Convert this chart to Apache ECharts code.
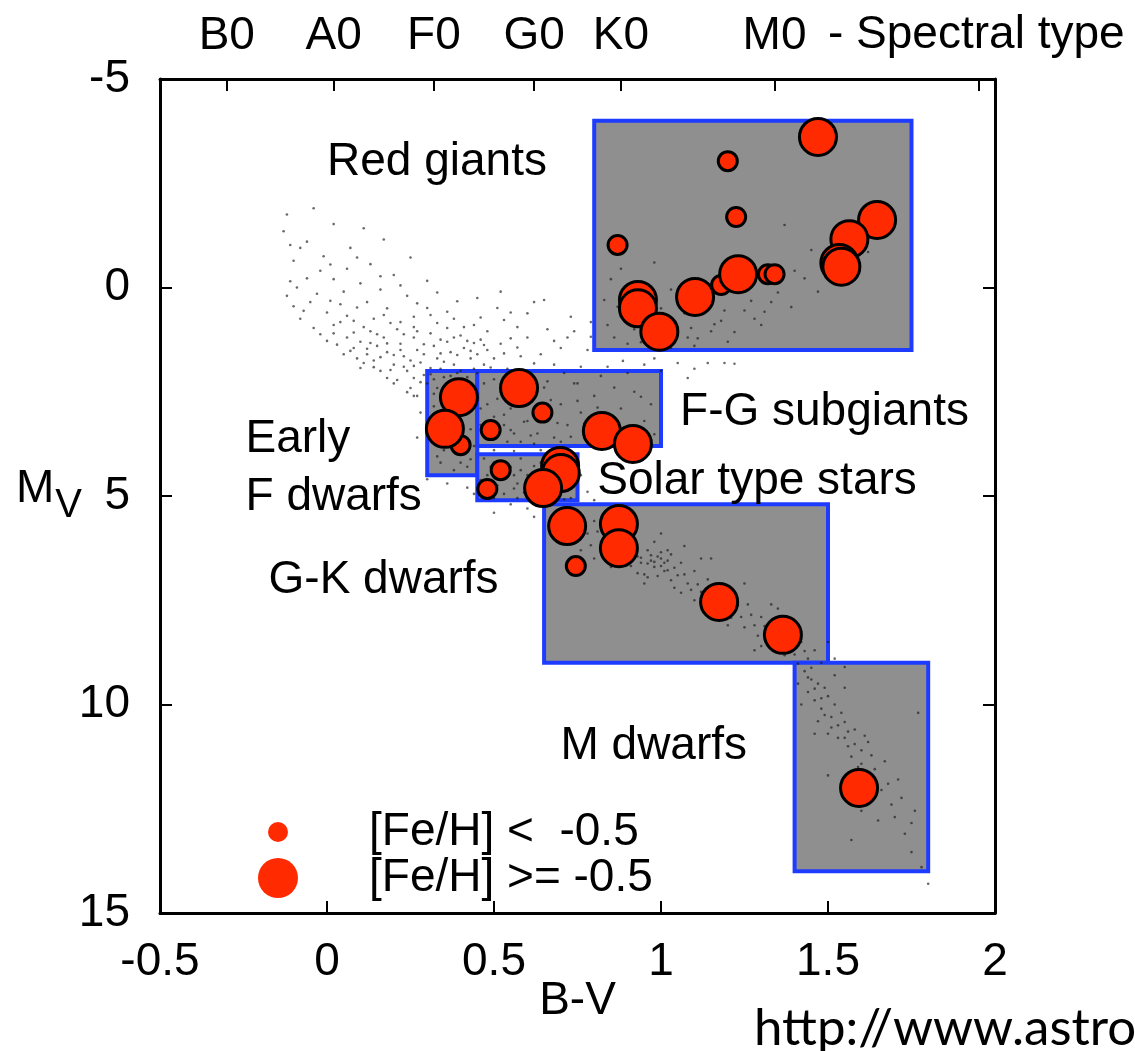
<!DOCTYPE html>
<html>
<head>
<meta charset="utf-8">
<title>HR diagram – sample boxes</title>
<script src="https://cdn.jsdelivr.net/npm/echarts@6/dist/echarts.min.js"></script>
<style>
  html, body { margin: 0; padding: 0; background: #fff; }
  #chart { width: 1135px; height: 1051px; }
</style>
</head>
<body>
<div id="chart"></div>
<script>
// ---- data -------------------------------------------------------------
// Selection boxes: [B-V min, B-V max, Mv top, Mv bottom]
const boxes = [
  [0.80, 1.75, -4.0, 1.5],   // Red giants
  [0.30, 0.45, 2.0, 4.5],    // Early F dwarfs
  [0.45, 1.00, 2.0, 3.8],    // F-G subgiants
  [0.45, 0.75, 4.0, 5.1],    // Solar type stars
  [0.65, 1.50, 5.2, 9.0],    // G-K dwarfs
  [1.40, 1.80, 9.0, 14.0]    // M dwarfs
];
const boxNames = ['Red giants', 'F-G subgiants', 'Early', 'F dwarfs',
                  'Solar type stars', 'G-K dwarfs', 'M dwarfs'];

// Programme stars, [B-V, Mv]
const metalPoor = [
  [1.20, -3.03], [1.225, -1.69], [0.87, -1.02], [1.18, -0.06],
  [1.32, -0.32], [1.34, -0.32], [0.40, 3.78], [0.645, 3.0],
  [0.49, 3.42], [0.52, 4.38], [0.48, 4.83], [0.745, 6.68]
];
const metalRich = [
  [1.47, -3.61], [1.647, -1.62], [1.564, -1.16], [1.534, -0.59],
  [1.54, -0.5], [1.231, -0.32], [1.102, 0.225], [0.931, 0.30],
  [0.931, 0.50], [0.995, 1.06], [0.395, 2.63], [0.353, 3.39],
  [0.575, 2.41], [0.823, 3.44], [0.916, 3.75], [0.698, 4.28],
  [0.70, 4.45], [0.647, 4.81], [0.719, 5.72], [0.874, 5.67],
  [0.874, 6.25], [1.174, 7.54], [1.365, 8.33], [1.593, 12.0]
];

// Field stars (Hipparcos sample), [B-V, Mv]
const fieldStars = [
  [-0.12,-1.75],[-0.13,-1.35],[-0.08,-0.95],[-0.1,-0.64],[-0.11,-0.15],[-0.12,0.2],[-0.07,0.56],[-0.04,0.97],
  [0.07,-0.95],[0.13,-0.56],[-0.06,-1.1],[-0.02,-0.4],[0.02,-0.2],[-0.09,0.0],[0.05,0.1],[0.1,-0.1],
  [-0.05,0.35],[0.0,0.6],[0.04,0.4],[0.08,0.8],[-0.08,0.75],[0.02,0.9],[-0.1,0.45],[0.12,0.35],
  [0.06,-0.45],[-0.01,-0.75],[0.16,0.05],[0.2,-0.3],[0.3,-0.16],[0.3,0.49],[0.24,0.2],[0.18,0.5],
  [0.26,0.7],[0.14,0.75],
  [-0.11,-1.02],[-0.06,-0.22],[-0.03,0.15],[0.01,0.32],[0.09,0.48],[0.06,0.68],[-0.02,1.12],[0.01,-0.55],
  [0.09,-0.72],[0.16,-0.27],[0.22,-0.05],[0.27,0.38],[0.33,0.12],[0.39,0.33],[0.45,0.25],[0.52,0.1],
  [0.11,-1.42],[0.02,-1.52],[-0.04,-1.9],[0.17,-1.15],[0.25,-0.72],
  [0.0,1.28],[0.05,1.6],[0.1,1.93],[0.18,2.17],[0.25,2.41],[0.36,0.97],[0.42,1.28],[0.45,1.6],[0.51,0.49],
  [0.02,1.1],[0.06,1.2],[0.08,1.45],[0.1,1.3],[0.12,1.6],[0.14,1.75],[0.15,1.4],[0.17,1.2],[0.18,1.55],
  [0.2,1.85],[0.21,1.0],[0.22,1.35],[0.23,1.65],[0.24,2.0],[0.26,1.2],[0.27,1.5],[0.28,1.8],[0.29,2.1],
  [0.3,2.3],[0.31,1.1],[0.32,1.4],[0.33,1.7],[0.34,1.95],[0.35,2.15],[0.36,1.3],[0.37,1.55],[0.38,1.85],
  [0.39,2.05],[0.4,1.15],[0.41,1.45],[0.43,1.7],[0.44,1.95],[0.46,1.25],[0.47,1.85],[0.48,1.5],[0.5,1.7],
  [0.52,1.35],[0.13,1.05],[0.09,1.7],[0.16,2.0],[0.2,2.3],[0.27,2.6],[0.32,2.55],[0.22,1.5],[0.25,1.75],
  [0.29,1.6],[0.34,1.25],[0.19,0.85],[0.26,0.95],[0.38,0.75],[0.44,0.9],[0.48,1.05],[0.33,0.85],[0.11,0.95],
  [0.03,1.37],[0.07,1.52],[0.11,1.81],[0.13,1.33],[0.16,1.67],[0.19,1.98],[0.21,2.22],[0.23,1.12],[0.24,2.51],
  [0.26,1.88],[0.28,2.27],[0.31,1.93],[0.33,2.41],[0.35,1.78],[0.37,2.12],[0.39,1.62],[0.4,2.38],[0.43,1.52],
  [0.45,2.05],[0.47,1.38],[0.49,1.92],[0.53,1.58],[0.55,1.22],[0.57,1.44],[0.15,1.12],[0.12,1.47],[0.08,1.08],
  [0.04,0.83],[0.17,0.66],[0.22,0.83],[0.27,1.05],[0.31,0.66],[0.36,0.58],[0.41,0.95],[0.46,0.72],[0.2,1.62],
  [0.29,1.36],[0.34,1.58],[0.38,1.2],[0.44,1.33],[0.31,2.08],[0.23,1.9],[0.18,1.34],[0.14,1.91],[0.26,2.17],
  [0.36,2.33],[0.42,2.15],
  [0.55,0.6],[0.6,1.2],[0.58,1.65],[0.62,0.35],[0.66,1.0],[0.7,1.45],[0.73,0.7],[0.76,1.9],[0.54,1.95],
  [0.68,1.85],[0.64,1.6],[0.72,1.2],[0.78,1.5],[0.57,0.95],
  [0.6,0.62],[0.65,0.3],[0.68,1.28],[0.74,1.05],[0.79,0.83],[0.62,1.82],[0.71,2.05],[0.58,2.12],[0.53,0.78],
  [0.66,2.25],[0.75,2.3],[0.82,2.12],[0.79,1.18],
  [0.886,1.76],[1.05,1.81],[1.08,2.17],[1.14,1.81],[1.19,1.81],[1.22,1.83],[0.84,1.9],[0.95,1.85],[1.0,2.0],
  [0.9,2.05],[0.98,1.7],[1.1,1.95],
  [0.84,0.9],[0.86,1.2],[0.88,0.7],[0.9,1.35],[0.95,1.15],[0.97,0.85],[1.02,1.3],[1.05,0.95],[1.08,1.2],
  [1.12,0.6],[1.15,1.05],[1.18,0.8],[1.2,1.3],[1.25,0.55],[1.3,0.9],[0.83,0.3],[0.85,-0.2],[1.0,0.5],
  [1.05,0.2],[1.25,-0.3],[1.33,0.35],[1.4,-0.4],[1.45,-0.9],[1.37,-1.5],[1.47,0.1],[1.58,-0.2],[1.28,0.75],
  [0.92,1.0],[1.1,1.4],
  [0.87,0.46],[0.91,0.78],[0.94,1.31],[0.96,0.52],[0.99,1.22],[1.01,0.77],[1.03,1.45],[1.07,0.62],[1.09,0.97],
  [1.11,1.22],[1.13,0.38],[1.16,0.88],[1.19,0.55],[1.22,1.07],[1.27,0.32],[1.31,0.58],[1.35,0.12],[1.39,0.47],
  [1.43,-0.22],[1.52,-0.48],[1.62,-0.85],[1.17,-0.12],[1.03,0.05],[0.88,-0.45],[0.98,-0.6],
  [0.32,2.2],[0.34,2.6],[0.36,3.0],[0.33,3.3],[0.38,3.6],[0.35,3.9],[0.4,4.2],[0.42,2.4],[0.41,3.0],
  [0.43,3.4],[0.44,3.8],[0.42,4.3],[0.47,2.3],[0.48,2.8],[0.5,3.1],[0.49,3.6],[0.52,2.5],[0.53,3.3],
  [0.55,2.9],[0.56,3.5],[0.57,2.2],[0.58,3.7],[0.6,3.2],[0.61,2.7],[0.63,3.5],[0.65,2.4],[0.66,3.1],
  [0.68,3.6],[0.7,2.8],[0.72,3.3],[0.74,2.3],[0.76,3.0],[0.78,3.5],[0.8,2.6],[0.83,3.1],[0.86,2.4],
  [0.88,2.9],[0.92,2.5],[0.95,3.2],[0.97,2.8],[0.5,2.2],[0.46,3.3],[0.54,3.7],[0.62,3.75],[0.7,3.7],
  [0.5,3.9],[0.56,3.92],[0.64,3.9],[0.7,3.95],[0.28,3.0],[0.26,2.6],[0.27,3.6],[0.3,4.6],[0.36,4.7],
  [0.42,4.8],[0.4,2.0],[0.37,2.3],[0.39,3.3],[0.34,4.2],
  [0.44,2.63],[0.46,2.9],[0.48,3.25],[0.51,2.67],[0.53,3.05],[0.55,3.42],[0.57,2.84],[0.59,3.22],[0.61,3.55],
  [0.63,2.95],[0.67,2.7],[0.69,3.25],[0.73,3.58],[0.75,2.72],[0.77,3.27],[0.81,2.88],[0.84,3.55],[0.89,3.35],
  [0.94,2.62],[0.98,3.52],[0.39,2.82],[0.37,3.47],[0.35,3.72],[0.41,3.92],[0.38,4.38],[0.43,4.12],[0.33,4.05],
  [0.31,3.55],[0.32,2.85],
  [0.47,4.1],[0.5,4.2],[0.52,4.6],[0.55,4.3],[0.57,4.7],[0.6,4.5],[0.62,4.9],[0.64,4.2],[0.66,4.6],
  [0.68,5.0],[0.7,4.8],[0.72,4.4],[0.73,5.05],[0.58,4.1],[0.48,4.5],[0.53,4.95],[0.6,5.0],[0.66,4.35],
  [0.56,4.5],[0.61,4.75],[0.67,4.85],[0.63,4.55],
  [0.49,4.3],[0.51,4.75],[0.54,4.48],[0.56,4.82],[0.58,4.38],[0.59,4.92],[0.62,4.28],[0.63,4.72],[0.65,5.02],
  [0.67,4.52],[0.69,4.72],[0.71,5.08],[0.74,4.7],[0.57,5.05],[0.64,5.12],[0.52,4.25],[0.46,4.62],[0.44,4.95],
  [0.5,5.05],
  [0.78,4.9],[0.8,5.1],[0.76,4.5],[0.6,5.3],[0.62,5.5],[0.55,5.2],[0.5,5.4],
  [0.7,5.4],[0.72,5.7],[0.75,5.5],[0.78,5.9],[0.8,5.6],[0.82,6.1],[0.84,5.8],[0.86,6.3],[0.88,6.0],
  [0.9,6.4],[0.92,6.2],[0.94,6.6],[0.96,6.3],[0.98,6.7],[1.0,6.5],[1.01,6.8],[1.03,6.4],[1.05,6.9],
  [1.06,6.6],[1.08,7.1],[1.1,6.8],[1.12,7.3],[1.14,7.0],[1.16,7.5],[1.18,7.2],[1.2,7.7],[1.22,7.4],
  [1.24,7.9],[1.26,7.6],[1.28,8.1],[1.3,7.9],[1.32,8.4],[1.34,8.1],[1.36,8.6],[1.38,8.3],[1.4,8.8],
  [1.42,8.5],[1.44,8.9],[1.46,8.7],[1.48,9.0],
  [0.76,6.3],[0.85,6.7],[0.95,7.1],[1.0,5.9],[1.1,7.5],[1.15,6.5],[1.2,8.1],[1.25,7.1],[1.3,8.6],
  [1.35,7.7],[1.4,8.2],[0.98,6.1],[1.04,7.2],[0.9,5.9],[0.8,6.5],[0.7,6.0],[1.12,6.5],[1.28,8.7],
  [1.33,7.6],[0.88,6.6],[1.07,6.2],[0.96,6.95],[1.02,6.3],[0.93,6.85],[0.99,6.45],[1.01,6.6],[0.97,6.55],
  [0.68,5.48],[0.71,5.92],[0.73,5.36],[0.74,6.12],[0.77,5.72],[0.79,6.18],[0.81,5.85],[0.83,6.42],[0.85,6.02],
  [0.87,6.55],[0.89,6.22],[0.91,6.68],[0.93,6.45],[0.95,6.88],[0.97,6.42],[0.99,6.92],[1.0,6.68],[1.02,6.55],
  [1.03,7.02],[1.04,6.72],[1.06,7.32],[1.07,6.88],[1.09,7.25],[1.11,7.12],[1.13,7.55],[1.15,7.28],[1.17,7.82],
  [1.19,7.45],[1.21,7.92],[1.23,7.62],[1.25,8.15],[1.27,7.85],[1.29,8.35],[1.31,8.12],[1.33,8.55],[1.35,8.32],
  [1.37,8.82],[1.39,8.55],[1.41,9.02],[1.43,8.72],[1.45,9.12],[0.92,6.35],[0.96,6.62],[1.0,6.35],[0.94,6.48],
  [1.02,6.78],[0.98,6.58],
  [1.52,8.9],[1.55,9.1],[1.5,8.5],
  [1.43,9.2],[1.45,9.4],[1.44,9.7],[1.47,9.5],[1.46,9.9],[1.49,9.6],[1.48,10.1],[1.5,9.8],[1.51,10.3],
  [1.52,10.0],[1.53,10.5],[1.5,10.7],[1.55,10.8],[1.54,10.2],[1.56,11.0],[1.58,10.6],[1.57,11.25],[1.6,11.1],
  [1.62,10.9],[1.59,11.5],[1.67,11.36],[1.5,11.7],[1.72,12.24],[1.75,12.84],[1.57,13.25],[1.75,13.54],
  [1.77,10.2],[1.65,12.78],[1.7,12.7],[1.52,9.3],[1.47,10.4],[1.41,9.5],[1.42,10.0],[1.55,9.6],[1.62,11.7],
  [1.68,11.9],[1.8,14.3],[1.62,12.2],
  [1.44,9.35],[1.46,9.62],[1.48,9.85],[1.49,10.25],[1.51,10.55],[1.53,10.8],[1.55,10.42],[1.56,10.65],[1.58,10.95],
  [1.6,11.42],[1.61,10.75],[1.63,11.22],[1.64,11.55],[1.66,12.05],[1.69,12.4],[1.71,11.8],[1.73,13.1],[1.76,12.55],
  [1.78,13.9],[1.54,12.1],[1.6,12.55],[1.46,10.7]
];

// Spectral type scale along the top edge (B-V of each class)
const spectralTicks = [-0.30, 0.02, 0.32, 0.62, 0.88, 1.34, 1.95];
const spectralNames = ['B0', 'A0', 'F0', 'G0', 'K0', 'M0', ''];

// Region captions, [B-V, Mv] of the caption's left end
const captionAt = [
  [0.0, -3.01], [1.057, 3.0], [-0.244, 3.65], [-0.244, 5.02],
  [0.809, 4.64], [-0.175, 7.01], [0.699, 11.01]
];

// ---- chart ------------------------------------------------------------
const FONT = '"Liberation Sans", Arial, Helvetica, sans-serif';
const RED = '#ff2a00';
const BLACK = '#000';

const chart = echarts.init(document.getElementById('chart'), null, { renderer: 'canvas' });

const frameAxis = {
  axisLine: { onZero: false, lineStyle: { color: BLACK, width: 3 } },
  axisTick: { inside: true, length: 12, lineStyle: { color: BLACK, width: 2 } },
  splitLine: { show: false }
};

const option = {
  backgroundColor: '#fff',
  animation: false,
  textStyle: { fontFamily: FONT },
  grid: { left: 160, right: 140, top: 79, bottom: 138, containLabel: false },
  xAxis: [
    Object.assign({}, frameAxis, {
      type: 'value', position: 'bottom', min: -0.5, max: 2, interval: 0.5,
      axisLabel: { fontSize: 46, color: BLACK, margin: 26, fontFamily: FONT },
      name: 'B-V', nameLocation: 'middle', nameGap: 65, nameMoveOverlap: false,
      nameTextStyle: { fontSize: 46, color: BLACK, fontFamily: FONT }
    }),
    Object.assign({}, frameAxis, {
      type: 'value', position: 'top', min: -0.5, max: 2,
      axisTick: { inside: true, length: 12, lineStyle: { color: BLACK, width: 2 },
                  customValues: spectralTicks },
      axisLabel: {
        fontSize: 46, color: BLACK, margin: 20, fontFamily: FONT,
        customValues: spectralTicks.slice(0, 6),
        formatter: v => {
          const i = spectralTicks.findIndex(t => Math.abs(t - v) < 1e-6);
          return i >= 0 ? spectralNames[i] : '';
        }
      }
    })
  ],
  yAxis: [
    Object.assign({}, frameAxis, {
      type: 'value', position: 'left', inverse: true, min: -5, max: 15, interval: 5,
      axisLabel: { fontSize: 46, color: BLACK, margin: 30, fontFamily: FONT },
      name: '{m|M}{v|V}', nameLocation: 'middle', nameRotate: 0, nameGap: 78, nameMoveOverlap: false,
      nameTextStyle: {
        color: BLACK,
        rich: {
          m: { fontSize: 46, fontFamily: FONT, color: BLACK, verticalAlign: 'top' },
          v: { fontSize: 40, fontFamily: FONT, color: BLACK, verticalAlign: 'top', padding: [20, 0, 0, 1] }
        }
      }
    }),
    Object.assign({}, frameAxis, {
      type: 'value', position: 'right', inverse: true, min: -5, max: 15, interval: 5,
      axisLabel: { show: false }
    })
  ],
  legend: [
    {
      selectedMode: false, left: 263, top: 804, itemWidth: 20, itemHeight: 20, orient: 'vertical',
      data: [{ name: '[Fe/H] <  -0.5', icon: 'circle', itemStyle: { color: RED, borderWidth: 0 } }],
      textStyle: { fontSize: 46, color: BLACK, fontFamily: FONT, padding: [0, 0, 0, 76] }
    },
    {
      selectedMode: false, left: 253, top: 850, itemWidth: 40, itemHeight: 40, orient: 'vertical',
      data: [{ name: '[Fe/H] >= -0.5', icon: 'circle', itemStyle: { color: RED, borderWidth: 0 } }],
      textStyle: { fontSize: 46, color: BLACK, fontFamily: FONT, padding: [0, 0, 0, 66] }
    }
  ],
  graphic: [
    {
      type: 'text', left: 828, top: 12,
      style: { text: '- Spectral type', font: '46px ' + FONT, fill: BLACK }
    },
    {
      type: 'text', left: 754, top: 1003,
      style: { text: 'http://www.astro', font: '51px Lato, "Open Sans", sans-serif', fill: BLACK }
    }
  ],
  series: [
    {
      type: 'custom', name: 'boxes', z: 1, silent: true,
      data: boxes,
      encode: { x: [0, 1], y: [2, 3] },
      renderItem: (params, api) => {
        const a = api.coord([api.value(0), api.value(2)]);
        const b = api.coord([api.value(1), api.value(3)]);
        return {
          type: 'rect',
          shape: {
            x: Math.min(a[0], b[0]), y: Math.min(a[1], b[1]),
            width: Math.abs(b[0] - a[0]), height: Math.abs(b[1] - a[1])
          },
          style: { fill: '#8f8f8f', stroke: '#1e3cff', lineWidth: 4 }
        };
      }
    },
    {
      type: 'scatter', name: 'field', z: 2, silent: true,
      data: fieldStars, symbolSize: 2.6,
      itemStyle: { color: '#1a1a1a', opacity: 0.65 }
    },
    {
      type: 'custom', name: 'captions', z: 5, silent: true,
      data: captionAt,
      renderItem: (params, api) => {
        const p = api.coord([api.value(0), api.value(1)]);
        return {
          type: 'text', x: p[0], y: p[1],
          style: {
            text: boxNames[params.dataIndex], font: '46px ' + FONT, fill: BLACK,
            align: 'left', verticalAlign: 'middle'
          }
        };
      }
    },
    {
      type: 'scatter', name: '[Fe/H] <  -0.5', z: 3,
      data: metalPoor, symbolSize: 19,
      itemStyle: { color: RED, borderColor: BLACK, borderWidth: 3, opacity: 1 }
    },
    {
      type: 'scatter', name: '[Fe/H] >= -0.5', z: 3,
      data: metalRich, symbolSize: 37,
      itemStyle: { color: RED, borderColor: BLACK, borderWidth: 3, opacity: 1 }
    }
  ]
};

chart.setOption(option);
</script>
</body>
</html>
